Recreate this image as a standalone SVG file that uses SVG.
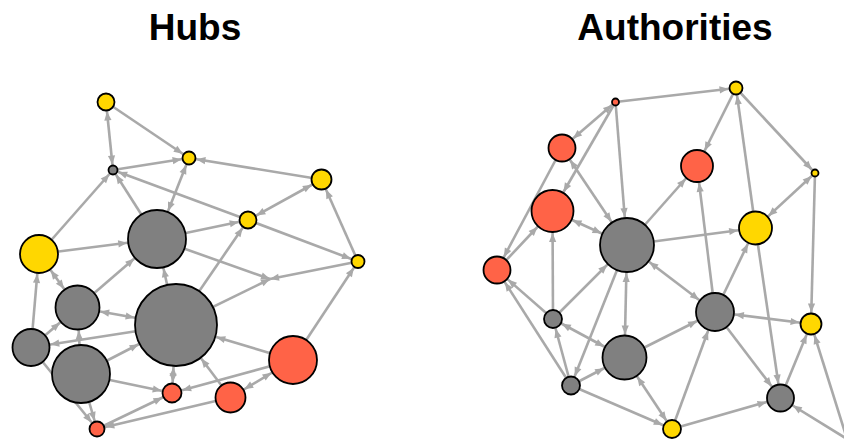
<svg xmlns="http://www.w3.org/2000/svg" width="844" height="442" viewBox="0 0 844 442">
<style>
.t{font-family:"Liberation Sans",Arial,sans-serif;font-weight:bold;font-size:37px;fill:#000;text-anchor:middle}
.e{stroke:#a9a9a9;stroke-width:2.6;fill:none}
.n{stroke:#000;stroke-width:1.8}
.y{fill:#ffd700}.r{fill:#ff6347}.g{fill:#808080}
marker path{fill:#a9a9a9}
</style>
<defs>
<marker id="a0" markerUnits="userSpaceOnUse" markerWidth="12" markerHeight="12" refX="0" refY="0" orient="auto-start-reverse" overflow="visible"><path d="M0,0 L-9,-3.6 L-9,3.6 Z"/></marker>
<marker id="a45" markerUnits="userSpaceOnUse" markerWidth="12" markerHeight="12" refX="4.5" refY="0" orient="auto-start-reverse" overflow="visible"><path d="M0,0 L-9,-3.6 L-9,3.6 Z"/></marker>
<marker id="a55" markerUnits="userSpaceOnUse" markerWidth="12" markerHeight="12" refX="5.5" refY="0" orient="auto-start-reverse" overflow="visible"><path d="M0,0 L-9,-3.6 L-9,3.6 Z"/></marker>
<marker id="a75" markerUnits="userSpaceOnUse" markerWidth="12" markerHeight="12" refX="7.5" refY="0" orient="auto-start-reverse" overflow="visible"><path d="M0,0 L-9,-3.6 L-9,3.6 Z"/></marker>
<marker id="a85" markerUnits="userSpaceOnUse" markerWidth="12" markerHeight="12" refX="8.5" refY="0" orient="auto-start-reverse" overflow="visible"><path d="M0,0 L-9,-3.6 L-9,3.6 Z"/></marker>
<marker id="a95" markerUnits="userSpaceOnUse" markerWidth="12" markerHeight="12" refX="9.5" refY="0" orient="auto-start-reverse" overflow="visible"><path d="M0,0 L-9,-3.6 L-9,3.6 Z"/></marker>
<marker id="a100" markerUnits="userSpaceOnUse" markerWidth="12" markerHeight="12" refX="10" refY="0" orient="auto-start-reverse" overflow="visible"><path d="M0,0 L-9,-3.6 L-9,3.6 Z"/></marker>
<marker id="a105" markerUnits="userSpaceOnUse" markerWidth="12" markerHeight="12" refX="10.5" refY="0" orient="auto-start-reverse" overflow="visible"><path d="M0,0 L-9,-3.6 L-9,3.6 Z"/></marker>
<marker id="a110" markerUnits="userSpaceOnUse" markerWidth="12" markerHeight="12" refX="11" refY="0" orient="auto-start-reverse" overflow="visible"><path d="M0,0 L-9,-3.6 L-9,3.6 Z"/></marker>
<marker id="a115" markerUnits="userSpaceOnUse" markerWidth="12" markerHeight="12" refX="11.5" refY="0" orient="auto-start-reverse" overflow="visible"><path d="M0,0 L-9,-3.6 L-9,3.6 Z"/></marker>
<marker id="a145" markerUnits="userSpaceOnUse" markerWidth="12" markerHeight="12" refX="14.5" refY="0" orient="auto-start-reverse" overflow="visible"><path d="M0,0 L-9,-3.6 L-9,3.6 Z"/></marker>
<marker id="a160" markerUnits="userSpaceOnUse" markerWidth="12" markerHeight="12" refX="16" refY="0" orient="auto-start-reverse" overflow="visible"><path d="M0,0 L-9,-3.6 L-9,3.6 Z"/></marker>
<marker id="a170" markerUnits="userSpaceOnUse" markerWidth="12" markerHeight="12" refX="17" refY="0" orient="auto-start-reverse" overflow="visible"><path d="M0,0 L-9,-3.6 L-9,3.6 Z"/></marker>
<marker id="a175" markerUnits="userSpaceOnUse" markerWidth="12" markerHeight="12" refX="17.5" refY="0" orient="auto-start-reverse" overflow="visible"><path d="M0,0 L-9,-3.6 L-9,3.6 Z"/></marker>
<marker id="a195" markerUnits="userSpaceOnUse" markerWidth="12" markerHeight="12" refX="19.5" refY="0" orient="auto-start-reverse" overflow="visible"><path d="M0,0 L-9,-3.6 L-9,3.6 Z"/></marker>
<marker id="a200" markerUnits="userSpaceOnUse" markerWidth="12" markerHeight="12" refX="20" refY="0" orient="auto-start-reverse" overflow="visible"><path d="M0,0 L-9,-3.6 L-9,3.6 Z"/></marker>
<marker id="a220" markerUnits="userSpaceOnUse" markerWidth="12" markerHeight="12" refX="22" refY="0" orient="auto-start-reverse" overflow="visible"><path d="M0,0 L-9,-3.6 L-9,3.6 Z"/></marker>
<marker id="a230" markerUnits="userSpaceOnUse" markerWidth="12" markerHeight="12" refX="23" refY="0" orient="auto-start-reverse" overflow="visible"><path d="M0,0 L-9,-3.6 L-9,3.6 Z"/></marker>
<marker id="a250" markerUnits="userSpaceOnUse" markerWidth="12" markerHeight="12" refX="25" refY="0" orient="auto-start-reverse" overflow="visible"><path d="M0,0 L-9,-3.6 L-9,3.6 Z"/></marker>
<marker id="a280" markerUnits="userSpaceOnUse" markerWidth="12" markerHeight="12" refX="28" refY="0" orient="auto-start-reverse" overflow="visible"><path d="M0,0 L-9,-3.6 L-9,3.6 Z"/></marker>
<marker id="a300" markerUnits="userSpaceOnUse" markerWidth="12" markerHeight="12" refX="30" refY="0" orient="auto-start-reverse" overflow="visible"><path d="M0,0 L-9,-3.6 L-9,3.6 Z"/></marker>
<marker id="a420" markerUnits="userSpaceOnUse" markerWidth="12" markerHeight="12" refX="42" refY="0" orient="auto-start-reverse" overflow="visible"><path d="M0,0 L-9,-3.6 L-9,3.6 Z"/></marker>
</defs>
<rect width="844" height="442" fill="#fff"/>
<text class="t" x="195" y="40">Hubs</text>
<text class="t" x="675" y="40">Authorities</text>
<g id="hub-edges">
<line class="e" x1="106" y1="102" x2="113" y2="170" marker-start="url(#a95)" marker-end="url(#a55)"/>
<line class="e" x1="106" y1="102" x2="189" y2="158" marker-end="url(#a75)"/>
<line class="e" x1="113" y1="170" x2="189" y2="158" marker-end="url(#a75)"/>
<line class="e" x1="39" y1="254" x2="113" y2="170" marker-end="url(#a55)"/>
<line class="e" x1="157" y1="239" x2="113" y2="170" marker-end="url(#a55)"/>
<line class="e" x1="248" y1="220" x2="113" y2="170" marker-end="url(#a55)"/>
<line class="e" x1="189" y1="158" x2="157" y2="239" marker-start="url(#a75)" marker-end="url(#a300)"/>
<line class="e" x1="321.5" y1="179.5" x2="189" y2="158" marker-end="url(#a75)"/>
<line class="e" x1="321.5" y1="179.5" x2="248" y2="220" marker-start="url(#a110)" marker-end="url(#a95)"/>
<line class="e" x1="358" y1="261.5" x2="321.5" y2="179.5" marker-end="url(#a110)"/>
<line class="e" x1="248" y1="220" x2="358" y2="261.5" marker-end="url(#a75)"/>
<line class="e" x1="157" y1="239" x2="248" y2="220" marker-end="url(#a95)"/>
<line class="e" x1="176" y1="325" x2="248" y2="220" marker-end="url(#a95)"/>
<line class="e" x1="157" y1="239" x2="270" y2="279" marker-end="url(#a0)"/>
<line class="e" x1="176" y1="325" x2="270" y2="279" marker-end="url(#a0)"/>
<line class="e" x1="358" y1="261.5" x2="270" y2="279" marker-end="url(#a0)"/>
<line class="e" x1="293" y1="360" x2="358" y2="261.5" marker-end="url(#a75)"/>
<line class="e" x1="39" y1="254" x2="157" y2="239" marker-end="url(#a300)"/>
<line class="e" x1="77.5" y1="307.5" x2="39" y2="254" marker-start="url(#a230)" marker-end="url(#a200)"/>
<line class="e" x1="31" y1="347.5" x2="39" y2="254" marker-end="url(#a200)"/>
<line class="e" x1="77.5" y1="307.5" x2="157" y2="239" marker-end="url(#a300)"/>
<line class="e" x1="77.5" y1="307.5" x2="176" y2="325" marker-start="url(#a230)" marker-end="url(#a420)"/>
<line class="e" x1="31" y1="347.5" x2="77.5" y2="307.5" marker-end="url(#a230)"/>
<line class="e" x1="81" y1="374" x2="77.5" y2="307.5" marker-end="url(#a230)"/>
<line class="e" x1="176" y1="325" x2="31" y2="347.5" marker-end="url(#a195)"/>
<line class="e" x1="31" y1="347.5" x2="97" y2="429" marker-end="url(#a85)"/>
<line class="e" x1="81" y1="374" x2="97" y2="429" marker-end="url(#a85)"/>
<line class="e" x1="81" y1="374" x2="176" y2="325" marker-end="url(#a420)"/>
<line class="e" x1="81" y1="374" x2="172" y2="393" marker-end="url(#a105)"/>
<line class="e" x1="176" y1="325" x2="172" y2="393" marker-start="url(#a420)" marker-end="url(#a105)"/>
<line class="e" x1="97" y1="429" x2="172" y2="393" marker-end="url(#a105)"/>
<line class="e" x1="293" y1="360" x2="172" y2="393" marker-end="url(#a105)"/>
<line class="e" x1="230.5" y1="397.5" x2="97" y2="429" marker-end="url(#a85)"/>
<line class="e" x1="230.5" y1="397.5" x2="293" y2="360" marker-start="url(#a160)" marker-end="url(#a250)"/>
<line class="e" x1="230.5" y1="397.5" x2="176" y2="325" marker-end="url(#a420)"/>
<line class="e" x1="293" y1="360" x2="176" y2="325" marker-end="url(#a420)"/>
<line class="e" x1="176" y1="325" x2="157" y2="239" marker-end="url(#a300)"/>
</g>
<g id="auth-edges">
<line class="e" x1="615.5" y1="102" x2="736" y2="88" marker-end="url(#a75)"/>
<line class="e" x1="615.5" y1="102" x2="562" y2="148" marker-start="url(#a45)" marker-end="url(#a145)"/>
<line class="e" x1="615.5" y1="102" x2="552.5" y2="211" marker-end="url(#a220)"/>
<line class="e" x1="615.5" y1="102" x2="627" y2="245" marker-end="url(#a280)"/>
<line class="e" x1="562" y1="148" x2="497" y2="270" marker-end="url(#a145)"/>
<line class="e" x1="497" y1="270" x2="552.5" y2="211" marker-end="url(#a220)"/>
<line class="e" x1="562" y1="148" x2="627" y2="245" marker-start="url(#a145)" marker-end="url(#a280)"/>
<line class="e" x1="552.5" y1="211" x2="627" y2="245" marker-start="url(#a220)" marker-end="url(#a280)"/>
<line class="e" x1="553" y1="319" x2="552.5" y2="211" marker-end="url(#a220)"/>
<line class="e" x1="736" y1="88" x2="697" y2="166" marker-end="url(#a170)"/>
<line class="e" x1="736" y1="88" x2="815" y2="173" marker-end="url(#a45)"/>
<line class="e" x1="755.5" y1="228" x2="736" y2="88" marker-end="url(#a75)"/>
<line class="e" x1="715" y1="312" x2="697" y2="166" marker-end="url(#a170)"/>
<line class="e" x1="627" y1="245" x2="697" y2="166" marker-end="url(#a170)"/>
<line class="e" x1="815" y1="173" x2="755.5" y2="228" marker-start="url(#a45)" marker-end="url(#a175)"/>
<line class="e" x1="815" y1="173" x2="811" y2="324" marker-end="url(#a115)"/>
<line class="e" x1="755.5" y1="228" x2="780.5" y2="398" marker-end="url(#a145)"/>
<line class="e" x1="715" y1="312" x2="755.5" y2="228" marker-end="url(#a175)"/>
<line class="e" x1="627" y1="245" x2="755.5" y2="228" marker-end="url(#a175)"/>
<line class="e" x1="715" y1="312" x2="811" y2="324" marker-start="url(#a200)" marker-end="url(#a115)"/>
<line class="e" x1="715" y1="312" x2="780.5" y2="398" marker-end="url(#a145)"/>
<line class="e" x1="780.5" y1="398" x2="811" y2="324" marker-end="url(#a115)"/>
<line class="e" x1="847" y1="439" x2="811" y2="324" marker-end="url(#a115)"/>
<line class="e" x1="847" y1="439" x2="780.5" y2="398" marker-end="url(#a145)"/>
<line class="e" x1="627" y1="245" x2="624.5" y2="357.5" marker-start="url(#a280)" marker-end="url(#a230)"/>
<line class="e" x1="627" y1="245" x2="715" y2="312" marker-start="url(#a280)" marker-end="url(#a200)"/>
<line class="e" x1="553" y1="319" x2="627" y2="245" marker-end="url(#a280)"/>
<line class="e" x1="627" y1="245" x2="571" y2="385.5" marker-end="url(#a100)"/>
<line class="e" x1="553" y1="319" x2="624.5" y2="357.5" marker-start="url(#a100)" marker-end="url(#a230)"/>
<line class="e" x1="571" y1="385.5" x2="624.5" y2="357.5" marker-end="url(#a230)"/>
<line class="e" x1="571" y1="385.5" x2="553" y2="319" marker-end="url(#a100)"/>
<line class="e" x1="571" y1="385.5" x2="497" y2="270" marker-end="url(#a145)"/>
<line class="e" x1="553" y1="319" x2="497" y2="270" marker-end="url(#a145)"/>
<line class="e" x1="571" y1="385.5" x2="672" y2="429" marker-end="url(#a100)"/>
<line class="e" x1="624.5" y1="357.5" x2="672" y2="429" marker-start="url(#a230)" marker-end="url(#a100)"/>
<line class="e" x1="672" y1="429" x2="715" y2="312" marker-end="url(#a200)"/>
<line class="e" x1="672" y1="429" x2="780.5" y2="398" marker-end="url(#a145)"/>
<line class="e" x1="624.5" y1="357.5" x2="715" y2="312" marker-end="url(#a200)"/>
</g>
<g id="h1"><circle class="n y" cx="106" cy="102" r="8.5"/></g>
<g id="h2"><circle class="n g" cx="113" cy="170" r="4.5"/></g>
<g id="h3"><circle class="n y" cx="189" cy="158" r="6.5"/></g>
<g id="h4"><circle class="n y" cx="321.5" cy="179.5" r="10"/></g>
<g id="h5"><circle class="n y" cx="248" cy="220" r="8.5"/></g>
<g id="h6"><circle class="n y" cx="358" cy="261.5" r="6.5"/></g>
<g id="h7"><circle class="n y" cx="39" cy="254" r="19"/></g>
<g id="h8"><circle class="n g" cx="157" cy="239" r="29"/></g>
<g id="h9"><circle class="n g" cx="77.5" cy="307.5" r="22"/></g>
<g id="h10"><circle class="n g" cx="176" cy="325" r="41"/></g>
<g id="h11"><circle class="n g" cx="31" cy="347.5" r="18.5"/></g>
<g id="h12"><circle class="n g" cx="81" cy="374" r="29"/></g>
<g id="h13"><circle class="n r" cx="293" cy="360" r="24"/></g>
<g id="h14"><circle class="n r" cx="172" cy="393" r="9.5"/></g>
<g id="h15"><circle class="n r" cx="230.5" cy="397.5" r="15"/></g>
<g id="h16"><circle class="n r" cx="97" cy="429" r="7.5"/></g>
<g id="a1"><circle class="n r" cx="615.5" cy="102" r="3.5"/></g>
<g id="a2"><circle class="n y" cx="736" cy="88" r="6.5"/></g>
<g id="a3"><circle class="n r" cx="562" cy="148" r="13.5"/></g>
<g id="a4"><circle class="n r" cx="697" cy="166" r="16"/></g>
<g id="a5"><circle class="n y" cx="815" cy="173" r="3.5"/></g>
<g id="a6"><circle class="n r" cx="552.5" cy="211" r="21"/></g>
<g id="a7"><circle class="n g" cx="627" cy="245" r="27"/></g>
<g id="a8"><circle class="n y" cx="755.5" cy="228" r="16.5"/></g>
<g id="a9"><circle class="n r" cx="497" cy="270" r="13.5"/></g>
<g id="a10"><circle class="n g" cx="553" cy="319" r="9"/></g>
<g id="a11"><circle class="n g" cx="715" cy="312" r="19"/></g>
<g id="a12"><circle class="n y" cx="811" cy="324" r="10.5"/></g>
<g id="a13"><circle class="n g" cx="624.5" cy="357.5" r="22"/></g>
<g id="a14"><circle class="n g" cx="571" cy="385.5" r="9"/></g>
<g id="a15"><circle class="n g" cx="780.5" cy="398" r="13.5"/></g>
<g id="a16"><circle class="n y" cx="672" cy="429" r="9"/></g>
</svg>
